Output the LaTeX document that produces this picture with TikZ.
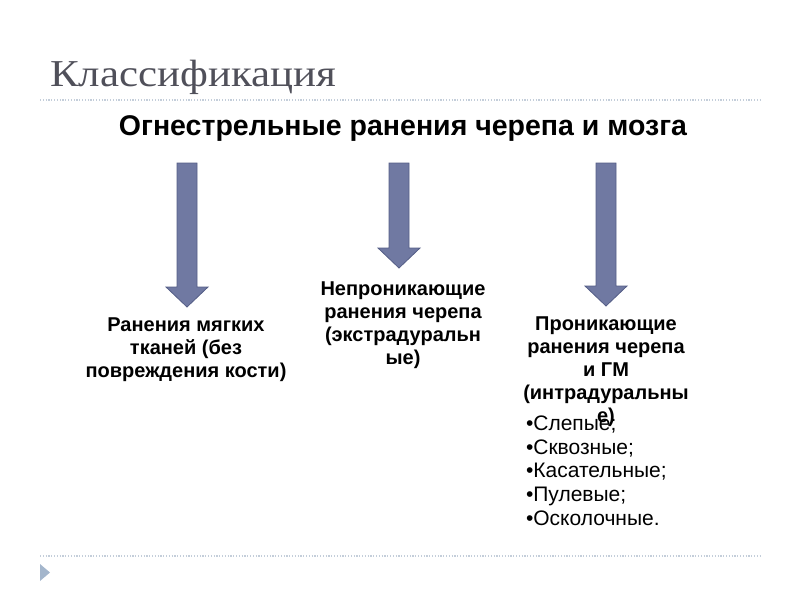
\documentclass[tikz,border=0pt]{standalone}
\usepackage{graphicx}
\usepackage{fontspec}
\setmainfont{Liberation Sans}
\newfontfamily\titlefont{Liberation Serif}
\usetikzlibrary{positioning}

\definecolor{titlegray}{RGB}{80,80,90}
\definecolor{rulegray}{RGB}{196,206,218}
\definecolor{arrowfill}{RGB}{112,121,162}
\definecolor{arrowdraw}{RGB}{84,93,134}
\definecolor{markblue}{RGB}{164,182,204}

\begin{document}
\begin{tikzpicture}[x=1pt,y=-1pt,
  every node/.style={inner sep=0pt, outer sep=0pt},
  dotrule/.style={rulegray, line width=1.2pt, dash pattern=on 1.2pt off 1.6pt},
  blockarrow/.style={fill=arrowfill, draw=arrowdraw, line width=0.8pt, line join=miter},
  kind/.style={align=center, anchor=north, font=\bfseries\fontsize{20}{23}\selectfont},
  items/.style={align=left, anchor=north west, font=\fontsize{21}{23.6}\selectfont}]

\useasboundingbox (0,0) rectangle (800,600);

% slide title and rules
\node[anchor=base west, text=titlegray, font=\titlefont\fontsize{38}{42}\selectfont] (title) at (50,86) {\scalebox{1.13}[1]{Классификация}};
\draw[dotrule] (40,100) -- (760,100);
\draw[dotrule] (40,556) -- (760,556);
\fill[markblue] (40,564) -- (50,572.5) -- (40,581) -- cycle;

% heading
\node[font=\bfseries\fontsize{28.5}{32}\selectfont] (head) at (403,129) {Огнестрельные ранения черепа и мозга};

% block arrows
\draw[blockarrow] (177,163) -- (197,163) -- (197,287) -- (208,287) -- (187,307) -- (166,287) -- (177,287) -- cycle;
\draw[blockarrow] (389,163) -- (409,163) -- (409,248) -- (420,248) -- (399,268) -- (378,248) -- (389,248) -- cycle;
\draw[blockarrow] (596,163) -- (616,163) -- (616,286) -- (627,286) -- (606,306) -- (585,286) -- (596,286) -- cycle;

% kinds of wounds
\node[kind] (soft) at (186,318) {Ранения мягких\\тканей (без\\повреждения кости)};
\node[kind] (nonpen) at (403,282) {Непроникающие\\ранения черепа\\(экстрадуральн\\ые)};
\node[kind] (pen) at (606,317) {Проникающие\\ранения черепа\\и ГМ\\(интрадуральны\\е)};

% list under the penetrating ones
\node[items] (list) at (526,416) {•Слепые;\\•Сквозные;\\•Касательные;\\•Пулевые;\\•Осколочные.};
\end{tikzpicture}
\end{document}
